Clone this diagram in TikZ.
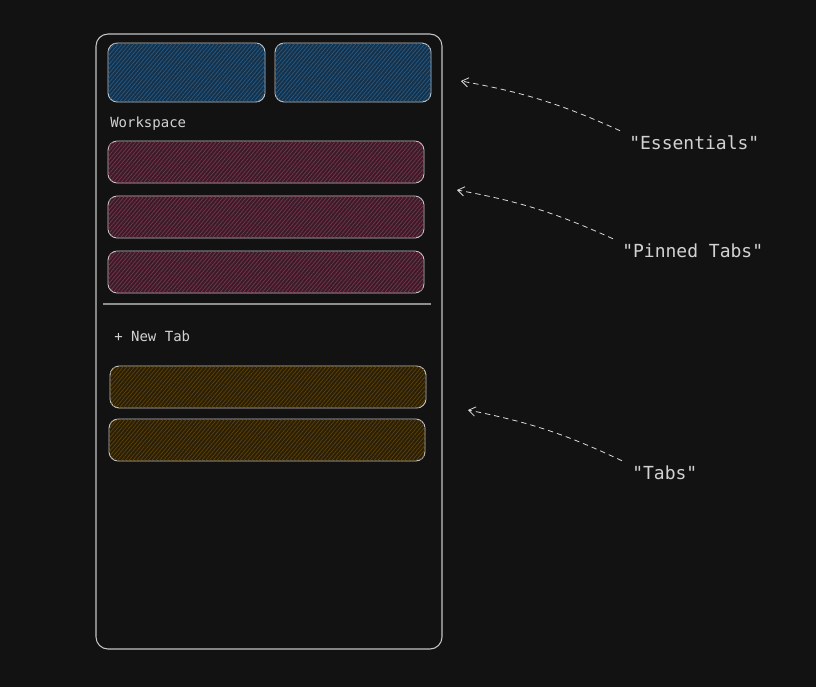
\documentclass[tikz,border=0pt]{standalone}
\usepackage{fontspec}
\setmonofont{DejaVu Sans Mono}
\usetikzlibrary{patterns.meta,arrows.meta}
\definecolor{bgdark}{HTML}{121212}
\definecolor{edge}{HTML}{C4C4C4}
\definecolor{ink}{HTML}{D2D2D2}
\definecolor{essbase}{HTML}{16324A}
\definecolor{esshatch}{HTML}{285C86}
\definecolor{pinbase}{HTML}{3A1B27}
\definecolor{pinhatch}{HTML}{7A3850}
\definecolor{tabbase}{HTML}{2B1F06}
\definecolor{tabhatch}{HTML}{5F440C}

\begin{document}
\begin{tikzpicture}[x=0.75pt, y=-0.75pt,
  hatchbox/.style={draw=edge, line width=0.7pt, rounded corners=7pt,
    minimum height=31.5pt, minimum width=237pt, inner sep=0pt},
  essbox/.style={hatchbox, fill=essbase, minimum height=44.25pt,
    postaction={pattern={Lines[angle=50,distance=2.2pt,line width=0.5pt]}, pattern color=esshatch}},
  pinbox/.style={hatchbox, fill=pinbase,
    postaction={pattern={Lines[angle=50,distance=2.2pt,line width=0.5pt]}, pattern color=pinhatch}},
  tabbox/.style={hatchbox, fill=tabbase,
    postaction={pattern={Lines[angle=50,distance=2.2pt,line width=0.5pt]}, pattern color=tabhatch}},
  note/.style={text=ink, font=\ttfamily\fontsize{13.5}{15}\selectfont, inner sep=0pt},
  lbl/.style={text=ink, font=\ttfamily\fontsize{10.5}{12}\selectfont, inner sep=0pt, anchor=west},
  pointer/.style={draw=ink!80, line width=0.6pt, dashed, dash pattern=on 4pt off 3pt,
    -{Straight Barb[length=5pt,width=7pt]}}]
\fill[bgdark] (0,0) rectangle (816,687);
\useasboundingbox (0,0) rectangle (816,687);

% sidebar frame
\node[draw=edge, line width=0.8pt, rounded corners=9pt, minimum width=259.5pt,
  minimum height=461.25pt, inner sep=0pt] (frame) at (269,341.5) {};

% essentials
\node[essbox, minimum width=117.75pt] (ess1) at (186.5,72.5) {};
\node[essbox, minimum width=117pt] (ess2) at (353,72.5) {};

\node[lbl] (ws) at (110,123.5) {Workspace};

% pinned tabs
\node[pinbox] (pin1) at (266,162) {};
\node[pinbox] (pin2) at (266,217) {};
\node[pinbox] (pin3) at (266,272) {};

\coordinate (sepl) at (103,304);
\coordinate (sepr) at (431,304);
\draw[edge!70!bgdark, line width=0.9pt] (sepl) -- (sepr);

\node[lbl] (newtab) at (114,336) {+ New Tab};

% tabs
\node[tabbox] (tab1) at (268,387) {};
\node[tabbox] (tab2) at (267,440) {};

% notes
\node[note, anchor=west] (essnote) at (629,143) {"Essentials"};
\node[note, anchor=west] (pinnote) at (622,251) {"Pinned Tabs"};
\node[note, anchor=west] (tabnote) at (632,473) {"Tabs"};

\coordinate (esstip) at (461,81);
\coordinate (pintip) at (457,190);
\coordinate (tabtip) at (468,410);

\draw[pointer] (essnote.north west) ++(-9,-5) coordinate (essfrom) to[bend right=7] (esstip);
\draw[pointer] (pinnote.north west) ++(-9,-5) coordinate (pinfrom) to[bend right=7] (pintip);
\draw[pointer] (tabnote.north west) ++(-10,-5) coordinate (tabfrom) to[bend right=7] (tabtip);
\end{tikzpicture}
\end{document}
